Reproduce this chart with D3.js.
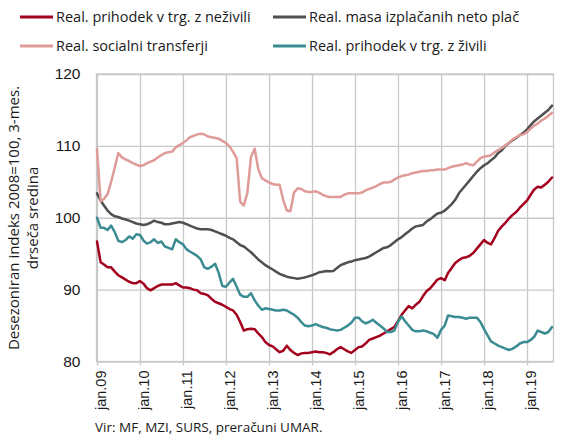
<!DOCTYPE html>
<html lang="sl">
<head>
<meta charset="utf-8">
<title>Realni prihodki in transferji</title>
<script src="https://cdn.jsdelivr.net/npm/d3@7"></script>
<style>
  body { margin: 0; background: #fff; }
  svg { font-family: "Open Sans", sans-serif; font-size: 14.5px; }
  text { fill: #1a1a1a; }
  .grid line { stroke: #c8c8c8; stroke-width: 1.3; }
  .grid .domain { display: none; }
  .axis .domain { display: none; }
  .axis line { stroke: #c8c8c8; stroke-width: 1.3; }
  .series { fill: none; stroke-width: 2.5; stroke-linejoin: round; stroke-linecap: round; }
</style>
</head>
<body>
<script>

// monthly, jan 2009 - aug 2019
var firstMonth = new Date(Date.UTC(2009, 0, 1));
var lastMonth = new Date(Date.UTC(2019, 7, 1));

var neZivili = [
  96.7, 93.8, 93.5, 93.1, 93.1, 92.5, 92.0, 91.7, 91.4, 91.1, 90.9, 90.9,
  91.2, 90.8, 90.2, 89.9, 90.2, 90.5, 90.7, 90.7, 90.7, 90.7, 90.9, 90.6,
  90.3, 90.3, 90.2, 90.0, 89.9, 89.5, 89.4, 89.2, 88.7, 88.3, 88.1, 87.9,
  87.6, 87.3, 87.1, 86.5, 85.5, 84.3, 84.5, 84.55, 84.5, 83.9, 83.4, 82.7,
  82.3, 82.1, 81.7, 81.3, 81.5, 82.2, 81.6, 81.2, 80.9, 81.1, 81.2, 81.2,
  81.3, 81.4, 81.3, 81.3, 81.2, 81.0, 81.3, 81.7, 82.0, 81.7, 81.4, 81.2,
  81.6, 82.0, 82.1, 82.5, 83.0, 83.2, 83.4, 83.6, 83.9, 84.2, 84.5, 84.8,
  85.6, 86.5, 87.1, 87.7, 87.4, 87.9, 88.3, 89.1, 89.8, 90.2, 90.8, 91.4,
  91.6, 91.3, 92.3, 93.0, 93.7, 94.1, 94.4, 94.5, 94.7, 95.1, 95.7, 96.3,
  96.9, 96.5, 96.3, 97.2, 98.2, 98.8, 99.3, 99.9, 100.4, 100.8, 101.4, 101.9,
  102.4, 103.2, 103.9, 104.3, 104.2, 104.6, 105.0, 105.6
];

var netoPlace = [
  103.4, 102.4, 101.7, 101.0, 100.5, 100.2, 100.1, 99.9, 99.75, 99.6, 99.4, 99.2,
  99.1, 99.0, 99.1, 99.3, 99.6, 99.4, 99.3, 99.1, 99.1, 99.2, 99.3, 99.4,
  99.3, 99.1, 98.9, 98.7, 98.5, 98.4, 98.4, 98.4, 98.3, 98.1, 97.9, 97.7,
  97.5, 97.2, 97.0, 96.6, 96.2, 96.0, 95.6, 95.2, 94.7, 94.2, 93.8, 93.4,
  93.1, 92.8, 92.5, 92.2, 92.0, 91.8, 91.7, 91.6, 91.5, 91.6, 91.7, 91.85,
  92.0, 92.2, 92.4, 92.5, 92.6, 92.55, 92.6, 93.0, 93.4, 93.6, 93.8, 93.9,
  94.1, 94.2, 94.3, 94.4, 94.6, 94.9, 95.2, 95.5, 95.8, 95.9, 96.2, 96.6,
  97.0, 97.3, 97.7, 98.1, 98.5, 98.8, 98.9, 99.0, 99.5, 99.8, 100.2, 100.6,
  100.7, 101.0, 101.4, 101.9, 102.5, 103.4, 104.0, 104.6, 105.2, 105.8, 106.4, 106.9,
  107.3, 107.6, 108.0, 108.4, 109.0, 109.4, 110.0, 110.4, 110.8, 111.1, 111.5, 111.8,
  112.3, 112.9, 113.4, 113.8, 114.2, 114.6, 115.0, 115.6
];

var socTransferji = [
  109.5, 102.3, 102.6, 103.3, 105.0, 107.0, 109.0, 108.4, 108.1, 107.9, 107.6, 107.4,
  107.2, 107.3, 107.6, 107.8, 108.0, 108.4, 108.7, 109.0, 109.1, 109.2, 109.8, 110.1,
  110.4, 110.8, 111.2, 111.4, 111.6, 111.7, 111.6, 111.3, 111.2, 111.1, 111.0, 110.7,
  110.4, 109.9, 109.2, 108.3, 102.2, 101.7, 103.5, 108.5, 109.6, 106.8, 105.5, 105.2,
  104.9, 104.7, 104.6, 104.6, 102.5, 101.0, 100.9, 103.5, 104.1, 104.0, 103.7, 103.6,
  103.6, 103.7, 103.5, 103.2, 103.0, 102.9, 102.9, 102.9, 102.9, 103.2, 103.4, 103.4,
  103.4, 103.4, 103.5, 103.8, 104.0, 104.2, 104.4, 104.7, 104.9, 104.9, 105.0, 105.3,
  105.6, 105.8, 105.9, 106.0, 106.2, 106.3, 106.4, 106.5, 106.5, 106.6, 106.6, 106.7,
  106.7, 106.7, 106.9, 107.1, 107.2, 107.3, 107.4, 107.6, 107.4, 107.3, 107.8, 108.3,
  108.5, 108.6, 108.7, 109.1, 109.4, 109.7, 110.1, 110.45, 110.9, 111.2, 111.5, 111.6,
  111.9, 112.4, 112.8, 113.1, 113.5, 113.8, 114.2, 114.6
];

var zivili = [
  100.0, 98.6, 98.6, 98.3, 98.9, 98.0, 96.8, 96.6, 96.9, 97.4, 97.1, 97.7,
  97.6, 96.8, 96.4, 96.6, 97.0, 96.5, 96.7, 96.0, 95.8, 95.6, 97.0, 96.6,
  96.3, 95.6, 95.3, 95.0, 94.7, 94.2, 93.1, 92.9, 93.2, 93.6, 92.3, 90.5,
  90.4, 91.0, 91.5, 90.4, 89.3, 89.0, 89.0, 89.5, 88.5, 87.8, 87.2, 87.4,
  87.3, 87.2, 87.1, 87.1, 87.2, 87.1, 86.8, 86.5, 86.1, 85.5, 85.0, 84.9,
  85.0, 85.2, 85.0, 84.8, 84.7, 84.5, 84.4, 84.3, 84.4, 84.7, 85.0, 85.4,
  86.1, 86.1, 85.6, 85.3, 85.5, 85.8, 85.4, 85.0, 84.6, 84.1, 84.1, 84.3,
  85.5, 86.3, 85.6, 85.0, 84.4, 84.2, 84.2, 84.3, 84.2, 84.0, 83.8, 83.3,
  84.4, 85.0, 86.4, 86.3, 86.2, 86.2, 86.1, 85.95, 86.1, 86.1, 86.1, 85.5,
  84.5, 83.6, 82.8, 82.5, 82.2, 82.0, 81.8, 81.6, 81.8, 82.1, 82.5, 82.7,
  82.7, 83.0, 83.4, 84.3, 84.1, 83.9, 84.1, 84.8
];

var seriesNames = [
  "Real. prihodek v trg. z neživili",
  "Real. masa izplačanih neto plač",
  "Real. socialni transferji",
  "Real. prihodek v trg. z živili"
];
var seriesColors = ["#a3001e", "#505050", "#de9b98", "#3a8b92"];

var yTicks = [80, 90, 100, 110, 120];
var xTickLabels = ["jan.09", "jan.10", "jan.11", "jan.12", "jan.13", "jan.14",
                   "jan.15", "jan.16", "jan.17", "jan.18", "jan.19"];

var W = 563, H = 441;
var plot = {left: 96.5, right: 553.5, top: 74, bottom: 361.5};

var months = d3.utcMonth.range(firstMonth, d3.utcMonth.offset(lastMonth, 1));
var allSeries = [neZivili, netoPlace, socTransferji, zivili];

var svg = d3.select("body").append("svg")
  .attr("width", W)
  .attr("height", H);

var x = d3.scaleUtc()
  .domain([firstMonth, lastMonth])
  .range([97, 552]);

var y = d3.scaleLinear()
  .domain([80, 120])
  .range([plot.bottom, plot.top]);

var janDates = xTickLabels.map(function(d, i) { return new Date(Date.UTC(2009 + i, 0, 1)); });

// grid
svg.append("g")
  .attr("class", "grid")
  .attr("transform", "translate(0," + plot.bottom + ")")
  .call(d3.axisBottom(x).tickValues(janDates).tickSize(-(plot.bottom - plot.top)).tickFormat(""));

svg.append("g")
  .attr("class", "grid")
  .attr("transform", "translate(" + plot.left + ",0)")
  .call(d3.axisLeft(y).tickValues(yTicks).tickSize(-(plot.right - plot.left)).tickFormat(""));

// frame
svg.append("rect")
  .attr("x", plot.left)
  .attr("y", plot.top)
  .attr("width", plot.right - plot.left)
  .attr("height", plot.bottom - plot.top)
  .attr("fill", "none")
  .attr("stroke", "#c8c8c8")
  .attr("stroke-width", 1.3);

// x axis
var xAxis = svg.append("g")
  .attr("class", "axis")
  .attr("transform", "translate(0," + plot.bottom + ")")
  .call(d3.axisBottom(x).tickValues(janDates).tickSize(4)
    .tickFormat(function(d, i) { return xTickLabels[i]; }));

xAxis.selectAll("text")
  .attr("transform", "rotate(-90)")
  .attr("text-anchor", "end")
  .attr("x", -9)
  .attr("y", 3.5)
  .attr("dy", "0.35em")
  .style("font-size", "14.5px")
  .style("fill", "#1a1a1a");

// y axis
var yAxis = svg.append("g")
  .attr("class", "axis")
  .attr("transform", "translate(" + plot.left + ",0)")
  .call(d3.axisLeft(y).tickValues(yTicks).tickSize(0).tickPadding(16));

yAxis.selectAll("text")
  .style("font-size", "15.5px")
  .style("fill", "#1a1a1a");

// y title
var yTitle = svg.append("text")
  .attr("transform", "translate(14,218) rotate(-90)")
  .attr("text-anchor", "middle")
  .style("font-size", "15px");
yTitle.append("tspan").attr("x", 0).attr("dy", "0.35em").text("Desezoniran indeks 2008=100, 3-mes.");
yTitle.append("tspan").attr("x", 0).attr("dy", 19).text("drseča sredina");

// lines
var line = d3.line()
  .x(function(d, i) { return x(months[i]); })
  .y(function(d) { return y(d); });

svg.selectAll(".series")
  .data(allSeries)
  .enter()
  .append("path")
  .attr("class", "series")
  .attr("stroke", function(d, i) { return seriesColors[i]; })
  .attr("d", line);

// legend
var legendPos = [[20, 17], [273, 17], [20, 46], [273, 46]];
var legend = svg.selectAll(".legend")
  .data(seriesNames)
  .enter()
  .append("g")
  .attr("class", "legend")
  .attr("transform", function(d, i) { return "translate(" + legendPos[i][0] + "," + legendPos[i][1] + ")"; });

legend.append("line")
  .attr("x1", 0).attr("x2", 33)
  .attr("stroke", function(d, i) { return seriesColors[i]; })
  .attr("stroke-width", 3);

legend.append("text")
  .attr("x", 36)
  .attr("dy", "0.35em")
  .text(function(d) { return d; });

// source
svg.append("text")
  .attr("x", 95)
  .attr("y", 432)
  .style("font-size", "13.5px")
  .text("Vir: MF, MZI, SURS, preračuni UMAR.");

</script>
</body>
</html>
